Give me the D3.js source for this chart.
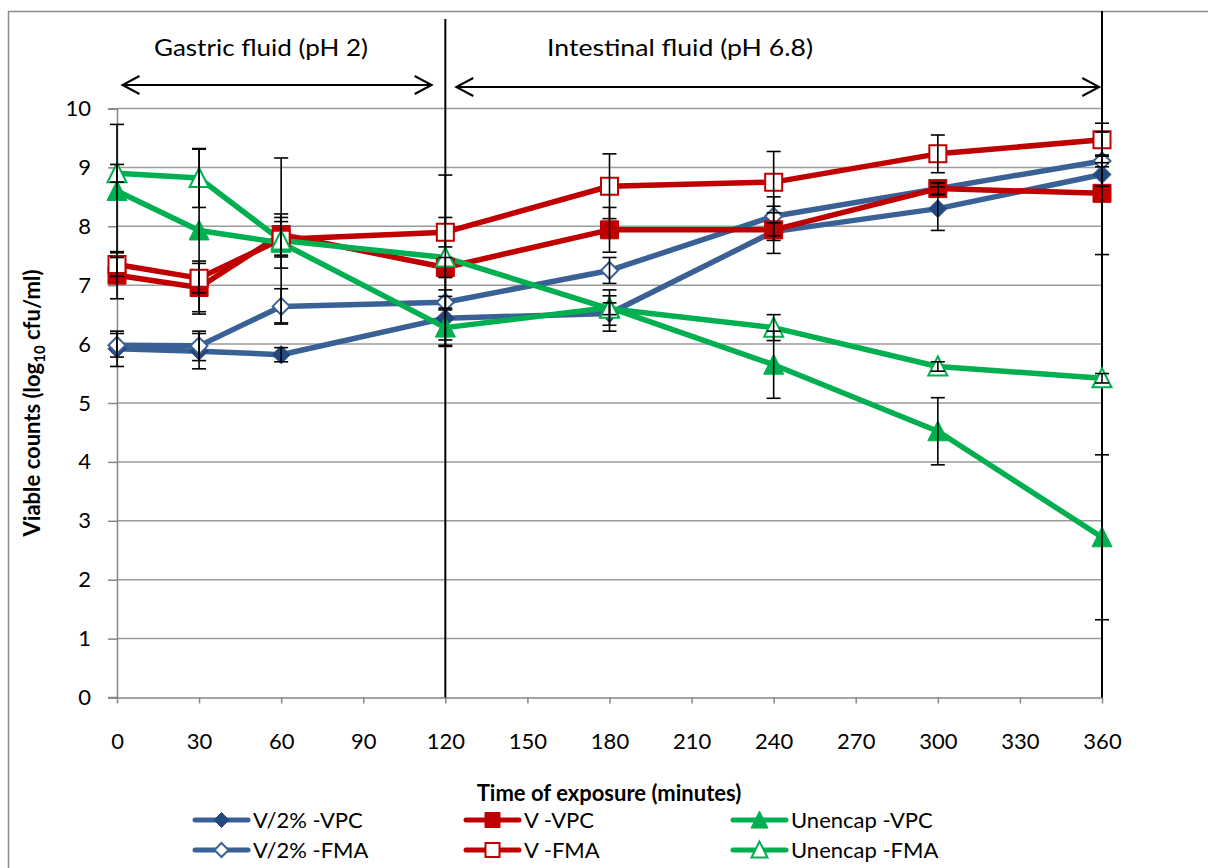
<!DOCTYPE html>
<html>
<head>
<meta charset="utf-8">
<script src="https://cdn.jsdelivr.net/npm/d3@7"></script>
<style>
  html, body { margin: 0; padding: 0; background: #fff; }
  svg { display: block; font-family: Lato, "Open Sans", sans-serif; }
</style>
</head>
<body>
<svg id="chart" width="1208" height="868"></svg>
<script>
// Sampling times (minutes)
const times = [0, 30, 60, 120, 180, 240, 300, 360];
const xTicks = [0, 30, 60, 90, 120, 150, 180, 210, 240, 270, 300, 330, 360];
const yTicks = [0, 1, 2, 3, 4, 5, 6, 7, 8, 9, 10];

// Viable counts (log10 cfu/ml) and their error values
const v2VPC    = [5.92, 5.88, 5.82, 6.44, 6.52, 7.91, 8.30, 8.88];
const v2VPCErr = [0.30, 0.30, 0.12, 0.48, 0.30, 0.15, 0.37, 0.20];
const v2FMA    = [5.98, 5.97, 6.64, 6.71, 7.25, 8.17, 8.64, 9.11];
const v2FMAErr = [0.20, 0.25, 0.30, 0.10, 0.22, 0.33, 0.10, 0.10];
const vVPC     = [7.17, 6.96, 7.86, 7.30, 7.94, 7.94, 8.64, 8.56];
const vVPCErr  = [0.40, 0.45, 0.35, 0.17, 0.38, 0.40, 0.10, 1.04];
const vFMA     = [7.35, 7.12, 7.78, 7.90, 8.68, 8.75, 9.23, 9.47];
const vFMAErr  = [0.20, 0.25, 0.30, 0.25, 0.55, 0.52, 0.32, 0.28];
const uVPC     = [8.60, 7.93, 7.72, 6.28, 6.62, 5.65, 4.52, 2.72];
const uVPCErr  = [1.13, 1.38, 0.43, 0.30, 0.30, 0.57, 0.57, 1.40];
const uFMA     = [8.90, 8.82, 7.76, 7.47, 6.60, 6.28, 5.62, 5.42];
const uFMAErr  = [0.15, 0.50, 1.40, 1.40, 0.10, 0.22, 0.08, 0.08];

const seriesNames = ["V/2% -VPC", "V/2% -FMA", "V -VPC", "V -FMA", "Unencap -VPC", "Unencap -FMA"];

const BLUE = "#3a6196", BLUE_DARK = "#24497e", RED = "#c00000", GREEN = "#00b050";

const series = [
  { name: seriesNames[0], values: v2VPC, err: v2VPCErr, color: BLUE, markColor: BLUE_DARK, shape: "diamond", filled: true },
  { name: seriesNames[1], values: v2FMA, err: v2FMAErr, color: BLUE, markColor: BLUE, shape: "diamond", filled: false },
  { name: seriesNames[2], values: vVPC,  err: vVPCErr,  color: RED,  markColor: RED,  shape: "square",  filled: true },
  { name: seriesNames[3], values: vFMA,  err: vFMAErr,  color: RED,  markColor: RED,  shape: "square",  filled: false },
  { name: seriesNames[4], values: uVPC,  err: uVPCErr,  color: GREEN, markColor: GREEN, shape: "triangle", filled: true },
  { name: seriesNames[5], values: uFMA,  err: uFMAErr,  color: GREEN, markColor: GREEN, shape: "triangle", filled: false }
];

const svg = d3.select("#chart");
const x = d3.scaleLinear().domain([0, 360]).range([117, 1102]);
const y = d3.scaleLinear().domain([0, 10]).range([697.5, 108.5]);

// Outer chart frame
svg.append("rect")
  .attr("x", 8.5).attr("y", 11.5).attr("width", 1240).attr("height", 900)
  .attr("fill", "none").attr("stroke", "#8c8c8c").attr("stroke-width", 1.5);

// Horizontal gridlines
svg.append("g").selectAll("line").data(yTicks.filter(d => d > 0)).join("line")
  .attr("x1", x(0)).attr("x2", x(360))
  .attr("y1", d => y(d)).attr("y2", d => y(d))
  .attr("stroke", "#9a9a9a").attr("stroke-width", 1.5);

// Y axis
const yAxis = d3.axisLeft(y).tickValues(yTicks).tickSize(9).tickPadding(17).tickFormat(d3.format("d"));
const gy = svg.append("g").attr("transform", `translate(${x(0)},0)`).call(yAxis);
gy.select(".domain").attr("stroke", "#868686").attr("stroke-width", 1.5);
gy.selectAll(".tick line").attr("stroke", "#868686").attr("stroke-width", 1.5);
gy.selectAll(".tick text").attr("font-size", 22).attr("fill", "#000").attr("font-family", "Lato, sans-serif");

// X axis
const xAxis = d3.axisBottom(x).tickValues(xTicks).tickSize(6).tickSizeOuter(0).tickPadding(30).tickFormat(d3.format("d"));
const gx = svg.append("g").attr("transform", `translate(0,${y(0)})`).call(xAxis);
gx.select(".domain").attr("stroke", "#868686").attr("stroke-width", 1.5);
gx.selectAll(".tick line").attr("stroke", "#868686").attr("stroke-width", 1.5);
gx.selectAll(".tick text").attr("font-size", 22).attr("fill", "#000").attr("font-family", "Lato, sans-serif");
// extend x axis line to the left tick length
svg.append("line").attr("x1", x(0) - 9).attr("x2", x(0)).attr("y1", y(0)).attr("y2", y(0))
  .attr("stroke", "#868686").attr("stroke-width", 1.5);

// Phase separators
svg.append("line").attr("x1", x(120)).attr("x2", x(120)).attr("y1", 19).attr("y2", y(0))
  .attr("stroke", "#000").attr("stroke-width", 2);
svg.append("line").attr("x1", x(360)).attr("x2", x(360)).attr("y1", 11).attr("y2", y(0))
  .attr("stroke", "#000").attr("stroke-width", 2);

// Phase arrows
function dblArrow(x1, x2, yy) {
  const g = svg.append("g").attr("stroke", "#000").attr("stroke-width", 2).attr("fill", "none");
  g.append("line").attr("x1", x1).attr("x2", x2).attr("y1", yy).attr("y2", yy);
  g.append("path").attr("d", `M${x1 + 17},${yy - 9} L${x1},${yy} L${x1 + 17},${yy + 9}`);
  g.append("path").attr("d", `M${x2 - 17},${yy - 9} L${x2},${yy} L${x2 - 17},${yy + 9}`);
}
dblArrow(x(2), x(115), 85);
dblArrow(x(124), x(359), 87);

svg.append("text").attr("x", 261).attr("y", 56).attr("text-anchor", "middle")
  .attr("font-size", 23).attr("textLength", 214).attr("lengthAdjust", "spacingAndGlyphs")
  .text("Gastric fluid (pH 2)");
svg.append("text").attr("x", 680).attr("y", 56).attr("text-anchor", "middle")
  .attr("font-size", 23).attr("textLength", 266).attr("lengthAdjust", "spacingAndGlyphs")
  .text("Intestinal fluid (pH 6.8)");

// Marker symbols
function markerPath(shape, size) {
  const h = size / 2;
  if (shape === "diamond") return `M0,${-h} L${h},0 L0,${h} L${-h},0 Z`;
  if (shape === "square") return `M${-h},${-h} H${h} V${h} H${-h} Z`;
  // triangle
  return `M0,${-h * 1.05} L${h},${h * 0.95} L${-h},${h * 0.95} Z`;
}
const markerSize = { diamond: 18, square: 18, triangle: 20 };

const line = d3.line().x((d, i) => x(times[i])).y(d => y(d));

// Series lines
svg.append("g").selectAll("path").data(series).join("path")
  .attr("d", s => line(s.values))
  .attr("fill", "none").attr("stroke", s => s.color).attr("stroke-width", 5.5)
  .attr("stroke-linejoin", "round");

// Markers
series.forEach(s => {
  const sz = s.filled ? markerSize[s.shape] : markerSize[s.shape] - 1;
  svg.append("g").selectAll("path").data(s.values).join("path")
    .attr("transform", (d, i) => `translate(${x(times[i])},${y(d)})`)
    .attr("d", markerPath(s.shape, sz))
    .attr("fill", s.filled ? s.markColor : "#fff")
    .attr("stroke", s.markColor).attr("stroke-width", s.filled ? 1 : 2);
});

// Error bars
series.forEach(s => {
  const g = svg.append("g").attr("stroke", "#000").attr("stroke-width", 1.6);
  s.values.forEach((v, i) => {
    const cx = x(times[i]), e = s.err[i];
    g.append("line").attr("x1", cx).attr("x2", cx).attr("y1", y(v + e)).attr("y2", y(v - e));
    [v + e, v - e].forEach(c => {
      g.append("line").attr("x1", cx - 7).attr("x2", cx + 7).attr("y1", y(c)).attr("y2", y(c));
    });
  });
});

// Axis titles
svg.append("text").attr("x", 609).attr("y", 801).attr("text-anchor", "middle")
  .attr("font-size", 22).attr("font-weight", "bold").text("Time of exposure (minutes)");

const yt = svg.append("text").attr("transform", "translate(40,403) rotate(-90)")
  .attr("text-anchor", "middle").attr("font-size", 22).attr("font-weight", "bold");
yt.append("tspan").text("Viable counts (log");
yt.append("tspan").attr("font-size", 15).attr("dy", 5).text("10");
yt.append("tspan").attr("dy", -5).text(" cfu/ml)");

// Legend
const legendCols = [195, 466, 733];
const legendRows = [820, 850];
series.forEach((s, i) => {
  const col = Math.floor(i / 2), row = i % 2;
  const lx = legendCols[col], ly = legendRows[row];
  const g = svg.append("g");
  g.append("line").attr("x1", lx).attr("x2", lx + 53).attr("y1", ly).attr("y2", ly)
    .attr("stroke", s.color).attr("stroke-width", 5).attr("stroke-linecap", "round");
  const sz = s.filled ? markerSize[s.shape] - 3 : markerSize[s.shape] - 4;
  g.append("path").attr("transform", `translate(${lx + 26.5},${ly})`)
    .attr("d", markerPath(s.shape, sz))
    .attr("fill", s.filled ? s.markColor : "#fff")
    .attr("stroke", s.markColor).attr("stroke-width", s.filled ? 1 : 2);
  g.append("text").attr("x", lx + 58).attr("y", ly + 8).attr("font-size", 22).text(s.name);
});
</script>
</body>
</html>
